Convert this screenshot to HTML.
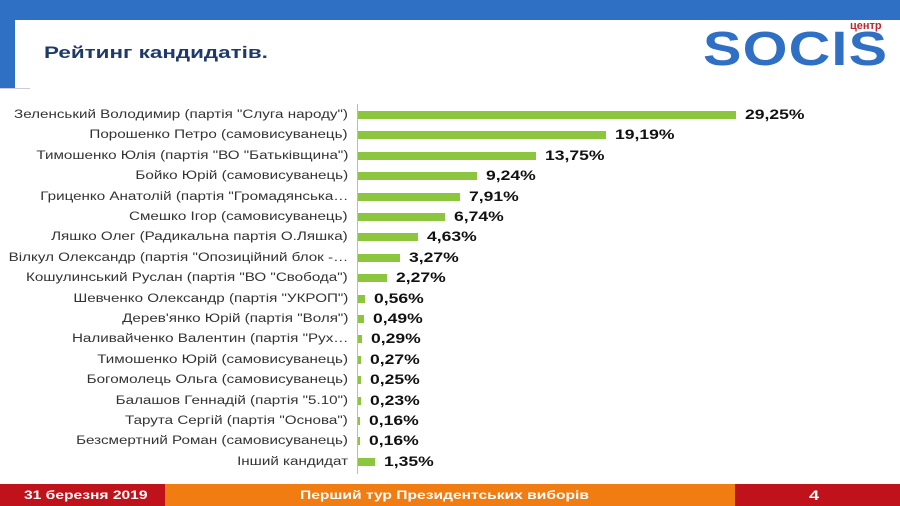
<!DOCTYPE html>
<html><head><meta charset="utf-8"><style>
body{margin:0;width:900px;height:506px;position:relative;background:#fff;font-family:"Liberation Sans",sans-serif;overflow:hidden}
.top{position:absolute;left:0;top:0;width:900px;height:20px;background:#2f6fc4}
.side{position:absolute;left:0;top:20px;width:15px;height:69px;background:#2f6fc4}
.hl{position:absolute;left:0;top:88px;width:30px;height:1px;background:#ccd}
.title{position:absolute;left:44px;top:43px;font-size:17px;font-weight:bold;color:#1f3a6a;transform:scaleX(1.32);transform-origin:left}
.logo{position:absolute;left:703px;top:22px;font-size:48px;font-weight:bold;color:#2f6fc4;letter-spacing:1px;transform:scaleX(1.2);transform-origin:left}
.centr{position:absolute;left:850px;top:20px;font-size:11px;font-weight:bold;color:#c0262d}
.lab{position:absolute;right:552px;font-size:11.5px;color:#333;white-space:nowrap;line-height:14px;transform:scaleX(1.32);transform-origin:right}
.bar{position:absolute;left:358px;height:8px;background:#8cc63f}
.val{position:absolute;font-size:13.5px;font-weight:bold;color:#111;line-height:14px;transform:scaleX(1.3);transform-origin:left}
.axis{position:absolute;left:357px;top:104px;width:1px;height:370px;background:#bbb}
.f1{position:absolute;left:0;top:484px;width:165px;height:22px;background:#c0121a}
.f2{position:absolute;left:165px;top:484px;width:570px;height:22px;background:#f07c12}
.f3{position:absolute;left:735px;top:484px;width:165px;height:22px;background:#c0121a}
.ft{position:absolute;top:488px;color:#fff;font-weight:bold;font-size:12px;transform:scaleX(1.3);transform-origin:left}
</style></head><body>
<div class="top"></div><div class="side"></div><div class="hl"></div>
<div class="title">Рейтинг кандидатів.</div>
<div class="logo">SOCIS</div><div class="centr">центр</div>
<div class="axis"></div>
<div id="c"></div>
<div class="f1"></div><div class="f2"></div><div class="f3"></div>
<div class="ft" style="left:24px">31 березня 2019</div>
<div class="ft" style="left:300px">Перший тур Президентських виборів</div>
<div class="ft" style="left:809px;font-size:14px;top:487px">4</div>
<script>
var d=[["Зеленський Володимир (партія \"Слуга народу\")",29.25],["Порошенко Петро (самовисуванець)",19.19],["Тимошенко Юлія (партія \"ВО \"Батьківщина\")",13.75],["Бойко Юрій (самовисуванець)",9.24],["Гриценко Анатолій (партія \"Громадянська…",7.91],["Смешко Ігор (самовисуванець)",6.74],["Ляшко Олег (Радикальна партія О.Ляшка)",4.63],["Вілкул Олександр (партія \"Опозиційний блок -…",3.27],["Кошулинський Руслан (партія \"ВО \"Свобода\")",2.27],["Шевченко Олександр (партія \"УКРОП\")",0.56],["Дерев'янко Юрій (партія \"Воля\")",0.49],["Наливайченко Валентин (партія \"Рух…",0.29],["Тимошенко Юрій (самовисуванець)",0.27],["Богомолець Ольга (самовисуванець)",0.25],["Балашов Геннадій (партія \"5.10\")",0.23],["Тарута Сергій (партія \"Основа\")",0.16],["Безсмертний Роман (самовисуванець)",0.16],["Інший кандидат",1.35]];
var h="";d.forEach(function(r,i){var y=115+i*20.4;var w=Math.max(2,r[1]*12.92);
h+='<div class="lab" style="top:'+(y-7)+'px">'+r[0]+'</div><div class="bar" style="top:'+(y-4)+'px;width:'+w+'px"></div><div class="val" style="left:'+(358+w+9)+'px;top:'+(y-7)+'px">'+r[1].toFixed(2).replace('.',',')+'%</div>';});
document.getElementById('c').innerHTML=h;
</script>
</body></html>
